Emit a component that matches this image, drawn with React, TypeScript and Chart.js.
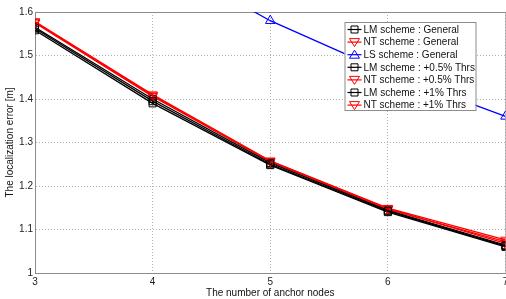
import React, { useEffect, useRef } from "react";
import { Chart, registerables } from "chart.js";

Chart.register(...registerables);

const anchorNodes = [3, 4, 5, 6, 7];
const yTicks = [1, 1.1, 1.2, 1.3, 1.4, 1.5, 1.6];

const lmGeneral = [1.562, 1.395, 1.25, 1.142, 1.062];
const ntGeneral = [1.577, 1.408, 1.257, 1.148, 1.068];
const lsGeneral = [1.88, 1.73, 1.58, 1.46, 1.36];
const lmHalf = [1.565, 1.4, 1.253, 1.144, 1.064];
const ntHalf = [1.578, 1.41, 1.258, 1.149, 1.076];
const lmOne = [1.558, 1.39, 1.248, 1.14, 1.06];
const ntOne = [1.575, 1.406, 1.256, 1.146, 1.072];

const seriesLabels = [
  "LM scheme : General",
  "NT scheme : General",
  "LS scheme : General",
  "LM scheme : +0.5% Thrs",
  "NT scheme : +0.5% Thrs",
  "LM scheme : +1% Thrs",
  "NT scheme : +1% Thrs",
];

const FONT = "Arial, 'Liberation Sans', sans-serif";

function drawMarker(ctx: CanvasRenderingContext2D, kind: string, x: number, y: number, color: string) {
  ctx.save();
  ctx.strokeStyle = color;
  ctx.lineWidth = 1;
  ctx.beginPath();
  if (kind === "square") {
    ctx.rect(x - 3.5, y - 3.5, 7, 7);
  } else if (kind === "down") {
    ctx.moveTo(x - 5, y - 3.5);
    ctx.lineTo(x + 5, y - 3.5);
    ctx.lineTo(x, y + 4.5);
    ctx.closePath();
  } else {
    ctx.moveTo(x - 5, y + 3.5);
    ctx.lineTo(x + 5, y + 3.5);
    ctx.lineTo(x, y - 4.5);
    ctx.closePath();
  }
  ctx.stroke();
  ctx.restore();
}

export default function App() {
  const ref = useRef<HTMLCanvasElement | null>(null);

  useEffect(() => {
    if (!ref.current) return;
    const styles = [
      { c: "#000000", m: "square" },
      { c: "#ff0000", m: "down" },
      { c: "#0000ff", m: "up" },
      { c: "#000000", m: "square" },
      { c: "#ff0000", m: "down" },
      { c: "#000000", m: "square" },
      { c: "#ff0000", m: "down" },
    ];
    const values = [lmGeneral, ntGeneral, lsGeneral, lmHalf, ntHalf, lmOne, ntOne];
    const datasets = values.map((v, i) => ({
      label: seriesLabels[i],
      data: anchorNodes.map((x, j) => ({ x, y: v[j] })),
      borderColor: styles[i].c,
      backgroundColor: "rgba(0,0,0,0)",
      borderWidth: 1.3,
      pointStyle: styles[i].m === "square" ? "rect" : "triangle",
      rotation: styles[i].m === "down" ? 180 : 0,
      pointRadius: styles[i].m === "square" ? 5 : 5.5,
      pointBorderWidth: 1,
      pointBorderColor: styles[i].c,
      pointBackgroundColor: "rgba(0,0,0,0)",
      tension: 0,
    }));

    const framePlugin = {
      id: "frame",
      beforeDatasetsDraw(chart: any) {
        const { ctx, chartArea: a } = chart;
        ctx.save();
        ctx.strokeStyle = "#8c8c8c";
        ctx.lineWidth = 1;
        ctx.strokeRect(a.left + 0.5, a.top + 0.5, a.right - a.left, a.bottom - a.top);
        ctx.restore();
      },
      afterDraw(chart: any) {
        const { ctx, chartArea: a } = chart;
        const bx = a.right - 161;
        const by = a.top + 10;
        const bw = 131;
        const rowH = 12.6;
        const bh = 88;
        ctx.save();
        ctx.fillStyle = "#ffffff";
        ctx.fillRect(bx, by, bw, bh);
        ctx.strokeStyle = "#8c8c8c";
        ctx.lineWidth = 1;
        ctx.strokeRect(bx + 0.5, by + 0.5, bw, bh);
        ctx.font = `10px ${FONT}`;
        ctx.textBaseline = "middle";
        ctx.textAlign = "left";
        chart.data.datasets.forEach((d: any, i: number) => {
          const y = by + 7.5 + i * rowH;
          const col = styles[i].c;
          ctx.strokeStyle = col;
          ctx.lineWidth = 1.2;
          ctx.beginPath();
          ctx.moveTo(bx + 3, y);
          ctx.lineTo(bx + 17, y);
          ctx.stroke();
          drawMarker(ctx, styles[i].m, bx + 10, y, col);
          ctx.fillStyle = "#111111";
          ctx.fillText(d.label, bx + 19, y + 0.5);
        });
        ctx.restore();
      },
    };

    const chart = new Chart(ref.current, {
      type: "line",
      data: { datasets: datasets as any },
      plugins: [framePlugin],
      options: {
        animation: false,
        responsive: false,
        maintainAspectRatio: false,
        layout: { padding: { left: 0, top: 12, right: 5, bottom: 0 } },
        plugins: { legend: { display: false }, tooltip: { enabled: false } },
        scales: {
          x: {
            type: "linear",
            min: 3,
            max: 7,
            afterBuildTicks: (s: any) => {
              s.ticks = anchorNodes.map((v) => ({ value: v }));
            },
            afterFit: (s: any) => {
              s.height = 26;
            },
            ticks: {
              color: "#222",
              font: { family: FONT, size: 10 },
              padding: 3,
              callback: (v: any) => String(v),
            },
            grid: {
              color: "#b4b4b4",
              drawTicks: false,
            },
            border: { display: true, color: "#8c8c8c", dash: [1, 2] },
            title: {
              display: true,
              text: "The number of anchor nodes",
              color: "#111",
              font: { family: FONT, size: 10 },
              padding: { top: 0, bottom: 0 },
            },
          },
          y: {
            type: "linear",
            min: 1,
            max: 1.6,
            afterBuildTicks: (s: any) => {
              s.ticks = yTicks.map((v) => ({ value: v }));
            },
            afterFit: (s: any) => {
              s.width = 35;
            },
            ticks: {
              color: "#222",
              font: { family: FONT, size: 10 },
              padding: 2,
              callback: (v: any) => String(Math.round(v * 10) / 10),
            },
            grid: { color: "#b4b4b4", drawTicks: false },
            border: { display: true, color: "#8c8c8c", dash: [1, 2] },
            title: {
              display: true,
              text: "The localization error [m]",
              color: "#111",
              font: { family: FONT, size: 10 },
              padding: { top: 4, bottom: 0 },
            },
          },
        },
      } as any,
    });
    return () => chart.destroy();
  }, []);

  return (
    <div style={{ position: "fixed", left: 0, top: 0, width: 512, height: 299, background: "#fff" }}>
      <canvas ref={ref} width={512} height={299} style={{ width: 512, height: 299, display: "block" }} />
    </div>
  );
}
